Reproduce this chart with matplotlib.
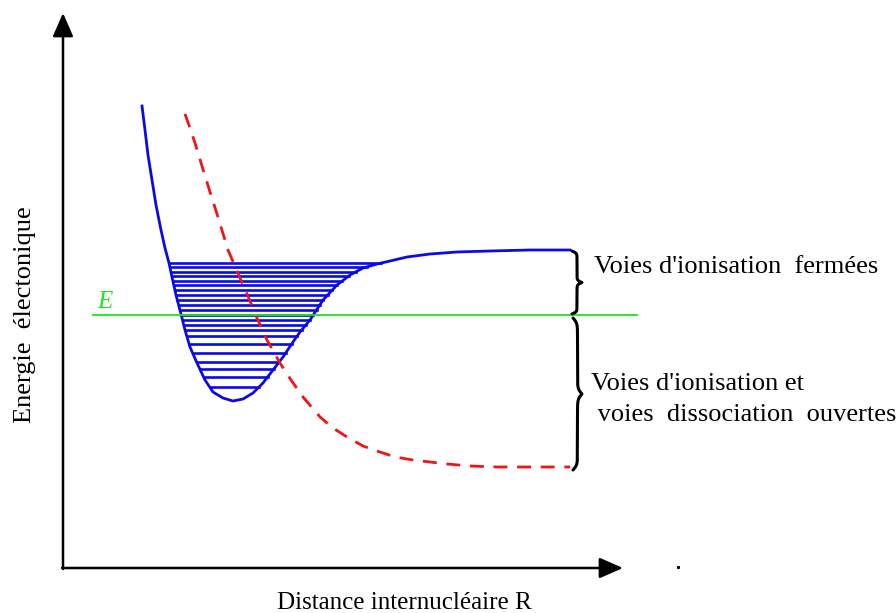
import matplotlib.pyplot as plt
import numpy as np

# ==========================================================
# Data (picture units: R to the right, energy downwards)
# ==========================================================

bound_R = [142, 145, 148, 152, 156, 161, 165, 169, 172, 176, 181, 185,
           190, 197, 205, 213, 223, 233, 243, 253, 263, 273, 283, 293,
           300, 310, 323, 337, 350, 363, 377, 390, 407, 430, 457, 490,
           530, 570]
bound_E = [106, 130, 155, 180, 205, 230, 248, 263, 277, 295, 314, 330,
           347, 363, 380, 392, 398, 401, 399, 393, 383, 370, 357, 342,
           332, 320, 300, 285, 275, 268, 264, 261, 257, 254, 252, 251,
           250, 250]

repulsive_R = [185, 190, 195, 202, 210, 218, 228, 240, 250, 257, 267, 280,
               291, 303, 320, 333, 347, 363, 380, 395, 413, 430, 447, 470,
               497, 530, 570]
repulsive_E = [114, 128, 143, 166, 192, 217, 250, 278, 301, 318, 340, 363,
               380, 397, 417, 428, 437, 446, 452, 457, 460, 462, 464, 466,
               467, 467, 467]

vibrational_levels = [263, 267, 272, 276, 281, 285, 290, 295, 300, 305,
                      310, 315, 320, 325, 330, 336, 344, 353, 362, 369,
                      377, 387]

energy_E = 315
energy_span = [93, 637]

brace_closed = (251, 314)
brace_open = (318, 470)

label_closed = "Voies d'ionisation  fermées"
label_open = ["Voies d'ionisation et", " voies  dissociation  ouvertes"]
x_label = "Distance internucléaire R"
y_label = "Energie  électonique"

BLUE = "#0a0ae6"
RED = "#f01414"
GREEN = "#1ee61e"

plt.rcParams["font.family"] = ["Liberation Serif", "DejaVu Serif"]


def draw_brace(ax, y0, y1, x0, width):
    """
    Draw a right-pointing curly brace between y0 and y1.
    """

    beta = 60.0
    half = np.linspace(0, 0.5, 200)
    shape = (1 / (1 + np.exp(-beta * half))
             + 1 / (1 + np.exp(-beta * (half - 0.5))) - 0.5)
    shape = (shape - shape[0]) / (shape[-1] - shape[0])
    xs = np.concatenate([shape, shape[::-1]]) * width + x0
    ys = np.concatenate([half, half + 0.5]) * (y1 - y0) + y0
    ax.plot(xs, ys, color="black", lw=2.2, solid_capstyle="round")


fig = plt.figure(figsize=(8.96, 6.13), dpi=100)
ax = fig.add_axes([0, 0, 1, 1])
ax.set_xlim(0, 896)
ax.set_ylim(613, 0)
ax.axis("off")

# ==========================================================
# Axes arrows
# ==========================================================

arrow = dict(arrowstyle="-|>,head_length=0.8,head_width=0.35",
             mutation_scale=18, lw=1.8, color="black",
             shrinkA=0, shrinkB=0)
ax.annotate("", xy=(63, 13), xytext=(63, 569), arrowprops=arrow)
ax.annotate("", xy=(623, 568), xytext=(62, 568), arrowprops=arrow)
ax.plot([678], [567], marker="s", ms=1.2, color="black")

# ==========================================================
# Potential curves and levels
# ==========================================================

bound_R = np.array(bound_R)
bound_E = np.array(bound_E)
i_min = int(np.argmax(bound_E))
left_R, left_E = bound_R[:i_min + 1], bound_E[:i_min + 1]
right_R, right_E = bound_R[i_min:], bound_E[i_min:]

for level in vibrational_levels:
    r0 = np.interp(level, left_E, left_R)
    r1 = np.interp(level, right_E[::-1], right_R[::-1])
    ax.plot([r0, r1], [level, level], color=BLUE, lw=1.9)

ax.plot(bound_R, bound_E, color=BLUE, lw=2.0, solid_joinstyle="round")
ax.plot(repulsive_R, repulsive_E, color=RED, lw=2.0,
        dashes=(5, 3.5))

ax.plot(energy_span, [energy_E, energy_E], color=GREEN, lw=1.3)
ax.text(97, 308, "E", color=GREEN, fontsize=18, style="italic")

# ==========================================================
# Braces and annotations
# ==========================================================

draw_brace(ax, *brace_closed, 572, 10)
draw_brace(ax, *brace_open, 573, 9)

ax.text(594, 273, label_closed, fontsize=19, va="baseline")
ax.text(591, 390, label_open[0], fontsize=19, va="baseline")
ax.text(591, 421, label_open[1], fontsize=19, va="baseline")

ax.text(277, 609, x_label, fontsize=18, va="baseline")
ax.text(25, 315, y_label, fontsize=19, rotation=90,
        ha="center", va="center")

fig.savefig("out.png", dpi=100)
